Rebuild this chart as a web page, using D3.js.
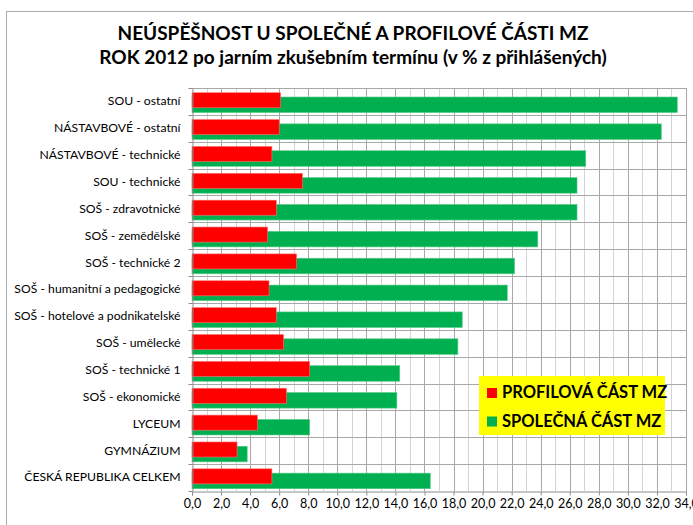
<!DOCTYPE html>
<html>
<head>
<meta charset="utf-8">
<script src="https://cdn.jsdelivr.net/npm/d3@7.9.0/dist/d3.min.js"></script>
<style>
  html, body { margin: 0; padding: 0; background: #fff; }
  svg { display: block; font-family: Lato, "Open Sans", sans-serif; }
</style>
</head>
<body>
<svg id="chart" width="693" height="525"></svg>
<script>
const categories = [
  'SOU - ostatní', 'NÁSTAVBOVÉ - ostatní ', 'NÁSTAVBOVÉ - technické', 'SOU - technické',
  'SOŠ - zdravotnické', 'SOŠ - zemědělské', 'SOŠ - technické 2', 'SOŠ - humanitní a pedagogické',
  'SOŠ - hotelové a podnikatelské', 'SOŠ - umělecké', 'SOŠ - technické 1', 'SOŠ - ekonomické',
  'LYCEUM', 'GYMNÁZIUM', 'ČESKÁ REPUBLIKA CELKEM'
];
const profilova = [6.1, 6.0, 5.5, 7.6, 5.8, 5.2, 7.2, 5.3, 5.8, 6.3, 8.1, 6.5, 4.5, 3.1, 5.5];
const spolecna  = [33.4, 32.3, 27.1, 26.5, 26.5, 23.8, 22.2, 21.7, 18.6, 18.3, 14.3, 14.1, 8.1, 3.8, 16.4];
const xTicks = d3.range(0, 34.01, 2);
const xMinor = d3.range(1, 34, 2);
const titleLines = ['NEÚSPĚŠNOST U SPOLEČNÉ A PROFILOVÉ ČÁSTI MZ', 'ROK 2012 po jarním zkušebním termínu (v % z přihlášených)'];
const legendItems = [
  { label: 'PROFILOVÁ ČÁST MZ', color: '#FF0000' },
  { label: 'SPOLEČNÁ ČÁST MZ', color: '#00B050' }
];

const svg = d3.select('#chart');
const m = { left: 192, top: 88, right: 686, bottom: 491 };

// chart frame
svg.append('rect').attr('x', 6.5).attr('y', 11.5).attr('width', 720).attr('height', 540)
  .attr('fill', '#fff').attr('stroke', '#ABABAB');

// title
svg.selectAll('text.title').data(titleLines).enter().append('text')
  .attr('class', 'title')
  .attr('x', 353).attr('y', (d, i) => 40 + i * 23.5)
  .attr('text-anchor', 'middle').attr('font-size', 19).attr('font-weight', 700)
  .attr('fill', '#000').text(d => d);

const x = d3.scaleLinear().domain([0, 34]).range([m.left, m.right]);
const y = d3.scaleBand().domain(categories).range([m.top, m.bottom]);

const g = svg.append('g');

// minor vertical grid
g.selectAll('line.minor').data(xMinor).enter().append('line')
  .attr('x1', d => Math.round(x(d)) + 0.5).attr('x2', d => Math.round(x(d)) + 0.5)
  .attr('y1', m.top).attr('y2', m.bottom).attr('stroke', '#D4D4D4');

// major vertical grid
g.selectAll('line.major').data(xTicks.slice(1)).enter().append('line')
  .attr('x1', d => Math.round(x(d)) + 0.5).attr('x2', d => Math.round(x(d)) + 0.5)
  .attr('y1', m.top).attr('y2', m.bottom).attr('stroke', '#A8A8A8');

// horizontal grid at category boundaries
const bounds = categories.map(c => y(c));
g.selectAll('line.hgrid').data(bounds).enter().append('line')
  .attr('x1', m.left).attr('x2', m.right)
  .attr('y1', d => Math.round(d) + 0.5).attr('y2', d => Math.round(d) + 0.5)
  .attr('stroke', '#A8A8A8');

// bars
const bh = y.bandwidth();
g.selectAll('rect.spol').data(spolecna).enter().append('rect')
  .attr('x', x(0)).attr('y', (d, i) => y(categories[i]) + bh * 0.335)
  .attr('width', d => x(d) - x(0)).attr('height', bh * 0.58)
  .attr('fill', '#00B050').attr('stroke', '#5CCB8A').attr('stroke-width', 0.6);
g.selectAll('rect.prof').data(profilova).enter().append('rect')
  .attr('x', x(0)).attr('y', (d, i) => y(categories[i]) + bh * 0.175)
  .attr('width', d => x(d) - x(0)).attr('height', bh * 0.56)
  .attr('fill', '#FF0000').attr('stroke', '#FF7070').attr('stroke-width', 0.6);

// y axis
const yAxis = g.append('g').attr('transform', `translate(${m.left + 0.5},0)`)
  .call(d3.axisLeft(y).tickSize(0).tickPadding(12));
yAxis.select('.domain').attr('stroke', '#8C8C8C');
yAxis.selectAll('text').attr('font-size', 12.2).attr('fill', '#000').attr('font-family', 'Lato');
yAxis.selectAll('line.bt').data(bounds.concat([m.bottom])).enter().append('line')
  .attr('class', 'bt').attr('x1', -4).attr('x2', 0)
  .attr('y1', d => Math.round(d) + 0.5).attr('y2', d => Math.round(d) + 0.5)
  .attr('stroke', '#8C8C8C');

// x axis
const xAxis = g.append('g').attr('transform', `translate(0,${m.bottom + 0.5})`)
  .call(d3.axisBottom(x).tickValues(xTicks).tickSize(4).tickPadding(4)
    .tickFormat(d => d.toFixed(1).replace('.', ',')));
xAxis.select('.domain').attr('stroke', '#8C8C8C');
xAxis.selectAll('line').attr('stroke', '#8C8C8C');
xAxis.selectAll('text').attr('font-size', 12.5).attr('fill', '#000').attr('font-family', 'Lato');

// legend
const lg = svg.append('g').attr('transform', 'translate(479,376)');
lg.append('rect').attr('width', 186).attr('height', 59).attr('fill', '#FFFF00');
const li = lg.selectAll('g.item').data(legendItems).enter().append('g')
  .attr('transform', (d, i) => `translate(8,${12 + i * 28.5})`);
li.append('rect').attr('width', 10).attr('height', 10).attr('fill', d => d.color);
li.append('text').attr('x', 15).attr('y', 10).attr('font-size', 16.5).attr('font-weight', 700)
  .attr('fill', '#000').text(d => d.label);
</script>
</body>
</html>
